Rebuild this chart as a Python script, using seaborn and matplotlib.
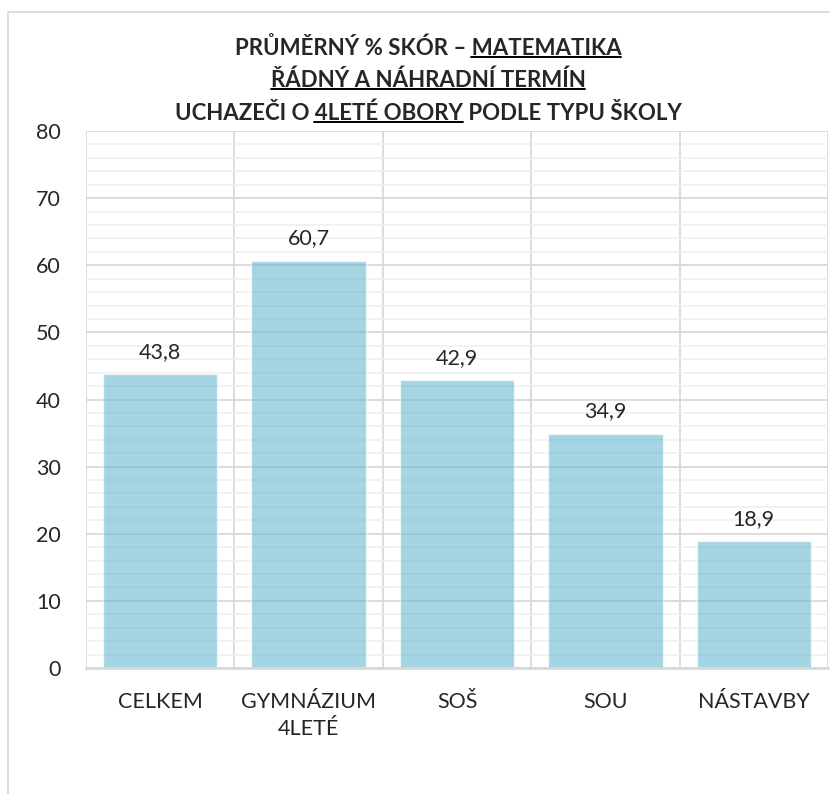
import numpy as np
import seaborn as sns
import matplotlib.pyplot as plt
from matplotlib.patches import Rectangle
from matplotlib.lines import Line2D
from matplotlib.ticker import MultipleLocator, FixedLocator

categories = ["CELKEM", "GYMNÁZIUM\n4LETÉ", "SOŠ", "SOU", "NÁSTAVBY"]
scores = [43.8, 60.7, 42.9, 34.9, 18.9]
value_labels = ["43,8", "60,7", "42,9", "34,9", "18,9"]

# title lines as (prefix, underlined part, suffix)
title_lines = [
    ("PRŮMĚRNÝ % SKÓR – ", "MATEMATIKA", ""),
    ("", "ŘÁDNÝ A NÁHRADNÍ TERMÍN", ""),
    ("UCHAZEČI O ", "4LETÉ OBORY", " PODLE TYPU ŠKOLY"),
]

sns.set_style("white")
plt.rcParams['font.family'] = ['Lato', 'DejaVu Sans']

W, H = 830, 794
fs = 15.5
tfs = 16
fig = plt.figure(figsize=(W / 100, H / 100), dpi=100)
ax = fig.add_axes([86 / W, 1 - 668 / H, (828 - 86) / W, (668 - 131) / H])

sns.barplot(x=categories, y=scores, color="#69b9cf", alpha=0.6, saturation=1,
            width=0.77, ax=ax)

ax.set_xlim(-0.5, 4.5)
ax.set_ylim(0, 80)
ax.set_axisbelow(True)
ax.yaxis.set_major_locator(MultipleLocator(10))
ax.yaxis.set_minor_locator(MultipleLocator(2))
ax.xaxis.set_minor_locator(FixedLocator(np.arange(-0.5, 5, 1)))
ax.grid(which='major', axis='y', color='#d9d9d9', lw=1.3)
ax.grid(which='minor', axis='y', color='#efefef', lw=1.1)
ax.grid(which='minor', axis='x', color='#d9d9d9', lw=1.3)
for s in ['left', 'right', 'top']:
    ax.spines[s].set_visible(False)
ax.spines['bottom'].set_color('#d9d9d9')
ax.spines['bottom'].set_linewidth(2)
ax.tick_params(which='both', length=0)
ax.tick_params(axis='y', labelsize=fs, pad=18)
ax.tick_params(axis='x', labelsize=fs, pad=17)
for lab in ax.get_xticklabels():
    lab.set_linespacing(1.45)
ax.set_xlabel('')
ax.set_ylabel('')

for i, (v, lab) in enumerate(zip(scores, value_labels)):
    ax.annotate(lab, (i, v), xytext=(0, 16), textcoords='offset points',
                ha='center', va='center', fontsize=fs)

# outer border
fig.patches.append(Rectangle((8 / W, -0.02), 1.1, 1 - 12 / H + 0.02,
                             transform=fig.transFigure, fill=False,
                             ec='#d9d9d9', lw=1.3))

# title with underlined parts
renderer = fig.canvas.get_renderer()
ys = [48, 80, 113]
xc = 428


def width(s):
    tmp = fig.text(0, 0, s, fontsize=tfs, fontweight='bold')
    w = tmp.get_window_extent(renderer).width
    tmp.remove()
    return w


for (pre, und, post), y in zip(title_lines, ys):
    full = pre + und + post
    t = fig.text(xc / W, 1 - y / H, full, ha='center', va='center',
                 fontsize=tfs, fontweight='bold')
    bb = t.get_window_extent(renderer)
    x1 = bb.x0 + width(pre + und)
    x0 = x1 - width(und)
    uy = bb.y0 + 2
    fig.add_artist(Line2D([x0, x1], [uy, uy], transform=None, color='black', lw=1.4))

fig.savefig('out.png', dpi=100)
